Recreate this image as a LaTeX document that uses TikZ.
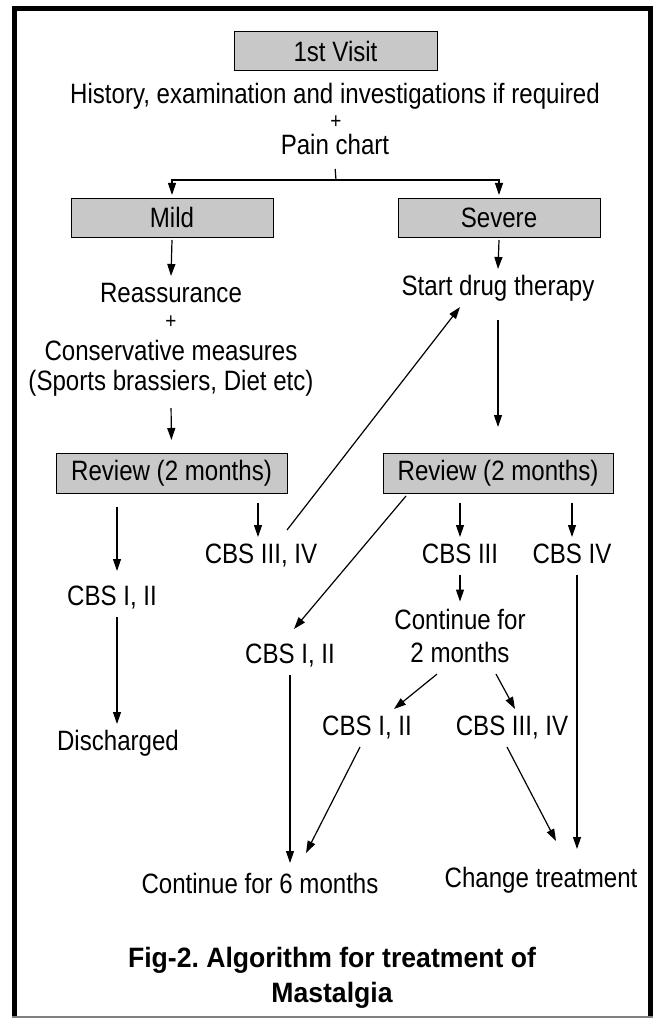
\documentclass[tikz,border=0pt]{standalone}
\usepackage{fontspec}
\setmainfont[FakeStretch=0.86]{Liberation Sans}
\newfontfamily\capfont[FakeStretch=0.95]{Liberation Sans}
\usetikzlibrary{arrows.meta}
\definecolor{boxgrey}{RGB}{200,200,200}
\tikzstyle{stage}=[rectangle,draw=black,fill=boxgrey,line width=1pt,minimum height=40pt,inner sep=0pt,outer sep=3pt]
\tikzstyle{plain}=[inner sep=0pt,outer sep=6pt,text height=20pt,text depth=6pt]
\tikzstyle{joiner}=[inner sep=0pt,font=\fontsize{22}{24}\selectfont]
\tikzstyle{flow}=[-{Triangle[length=12pt,width=8pt]}]
\tikzset{every picture/.style={
    line width=1.2pt
  }
}
\frenchspacing

\begin{document}
\begin{tikzpicture}[x=1pt,y=-1pt,font=\fontsize{28}{33}\selectfont]
      \useasboundingbox (0,0) rectangle (654,1019);
      \draw[line width=5pt] (14.5,1016) |- (650.5,8.5) -- (650.5,1016);
      \draw[line width=2pt,gray] (12,1017) -- (653,1017);
      % first visit
      \node[stage,minimum width=203pt,minimum height=39pt] (visit) at (335.5,51.5) {1st Visit};
      \node[plain] (hist) at (335,97) {History, examination and investigations if required};
      \node[joiner] (plusA) at (336,122) {+};
      \node[plain] (pain) at (335,148) {Pain chart};
      \coordinate (fork) at (336,180);
      \draw[shorten <=2pt] (pain.south) -- (fork);
      \node[stage,minimum width=202pt,minimum height=39pt] (mild) at (172,217.5) {Mild};
      \node[stage,minimum width=202pt,minimum height=39pt] (severe) at (499,217.5) {Severe};
      \draw[flow] (fork) -| (mild.north);
      \draw[flow] (fork) -| (severe.north);
      % mild
      \node[plain] (reass) at (171,295) {Reassurance};
      \node[joiner] (plusB) at (171,322) {+};
      \node[plain] (cons) at (171,353) {Conservative measures};
      \node[plain] (sports) at (171,383) {(Sports brassiers, Diet etc)};
      \node[stage,minimum width=231pt] (revL) at (171.5,473) {Review (2 months)};
      \draw[flow] (mild.south) -- (reass.north);
      \draw[flow,shorten <=6pt,shorten >=10pt] (sports.south) -- (revL.north);
      % severe
      \node[plain] (drug) at (498,288) {Start drug therapy};
      \node[stage,minimum width=230pt] (revR) at (498,473) {Review (2 months)};
      \draw[flow] (severe.south) -- (drug.north);
      \draw[flow,shorten <=13pt,shorten >=23pt] (drug.south) -- (revR.north);
      % review of mild
      \node[plain] (cbsL) at (112,598) {CBS I, II};
      \node[plain] (disch) at (118,743) {Discharged};
      \node[plain] (cbsM) at (261,556) {CBS III, IV};
      \draw[flow,shorten <=11pt,shorten >=8pt] ([xshift=5pt]cbsL |- revL.south) -- ([xshift=5pt]cbsL.north);
      \draw[flow] ([xshift=5pt]cbsL.south) -- ([xshift=5pt]cbsL.south |- disch.north);
      \draw[flow,shorten <=7pt] ([xshift=-3pt]cbsM |- revL.south) -- ([xshift=-3pt]cbsM.north);
      \draw[flow] ([xshift=26pt,yshift=7pt]cbsM.north) -- ([xshift=-38pt]drug.south);
      % review of severe
      \node[plain] (cbsR) at (290,656) {CBS I, II};
      \node[plain] (cbsIII) at (460,556) {CBS III};
      \node[plain] (cbsIV) at (572,556) {CBS IV};
      \node[outer sep=8pt,inner sep=0pt,align=center] (cont2) at (460,636.3) {Continue for\\2 months};
      \node[plain] (cbsA) at (367,728) {CBS I, II};
      \node[plain] (cbsB) at (512,728) {CBS III, IV};
      \node[plain] (cont6) at (260,886) {Continue for 6 months};
      \node[plain] (change) at (541,880) {Change treatment};
      \draw[flow] ([xshift=-92pt]revR.south) -- ([xshift=4pt,yshift=8pt]cbsR.north);
      \draw[flow,shorten <=7pt] (cbsIII |- revR.south) -- (cbsIII.north);
      \draw[flow,shorten <=7pt] (cbsIV |- revR.south) -- (cbsIV.north);
      \draw[flow] (cbsIII.south) -- (cbsIII.south |- cont2.north);
      \draw[flow] ([xshift=-23pt,yshift=-3pt]cont2.south) -- ([xshift=27pt]cbsA.north);
      \draw[flow] ([xshift=36pt,yshift=-3pt]cont2.south) -- ([xshift=3pt]cbsB.north);
      \draw[flow,shorten >=4pt] (cbsR.south) -- (cbsR.south |- cont6.north);
      \draw[flow] ([xshift=-7pt]cbsA.south) -- ([xshift=46pt,yshift=14pt]cont6.north);
      \draw[flow] ([xshift=-5pt]cbsB.south) -- ([xshift=15pt,yshift=20pt]change.north);
      \draw[flow,shorten >=12pt] ([xshift=5pt]cbsIV.south) -- ([xshift=5pt]cbsIV.south |- change.north);
      % caption
      \node[align=center,inner sep=0pt,font=\capfont\bfseries\fontsize{28}{35}\selectfont] (caption) at (332,978.3) {Fig-2. Algorithm for treatment of\\Mastalgia};
\end{tikzpicture}
\end{document}
